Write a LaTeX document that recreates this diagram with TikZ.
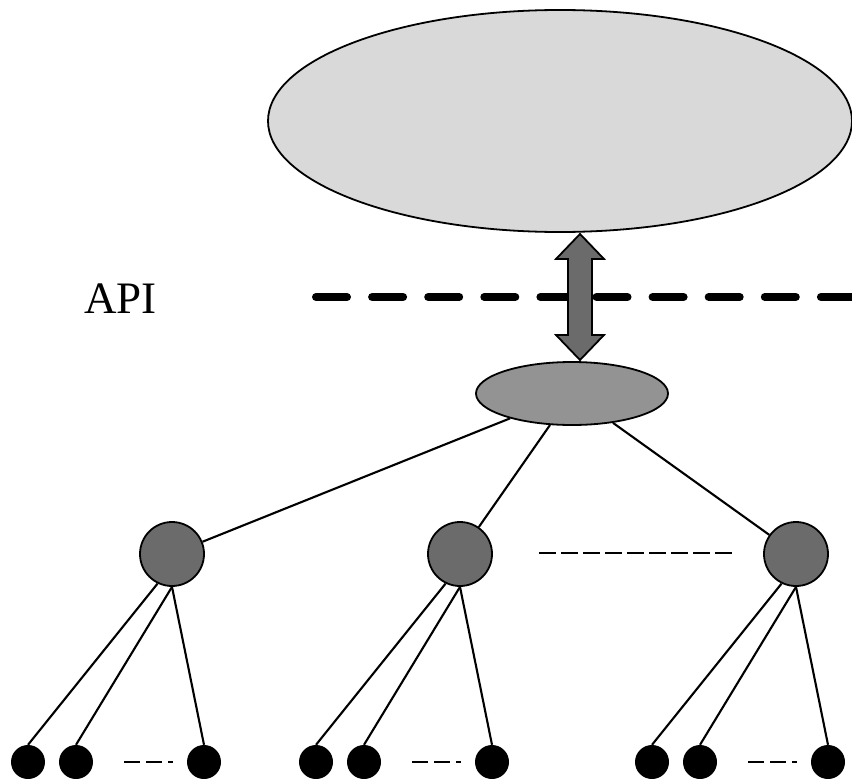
\documentclass[tikz,border=0pt]{standalone}
\usepackage{fontspec}
\setmainfont{Liberation Serif}
\usetikzlibrary{shapes.geometric,calc}
\definecolor{topfill}{HTML}{D9D9D9}
\definecolor{midfill}{HTML}{939393}
\definecolor{darkfill}{HTML}{6B6B6B}
\tikzset{
  outl/.style={draw=black, line width=1.8pt},
  bigell/.style={outl, ellipse, fill=topfill, inner sep=0pt, minimum width=584pt, minimum height=222pt},
  smallell/.style={outl, ellipse, fill=midfill, inner sep=0pt, minimum width=192pt, minimum height=63pt},
  hub/.style={outl, circle, fill=darkfill, inner sep=0pt, minimum size=64pt},
  leaf/.style={circle, fill=black, inner sep=0pt, minimum size=34pt},
  conn/.style={draw=black, line width=2.1pt},
  apiline/.style={draw=black, line width=8pt, line cap=round, dash pattern=on 31pt off 25.1pt},
  hubdash/.style={draw=black, line width=2.5pt, dash pattern=on 17pt off 5pt},
  leafdash/.style={draw=black, line width=2.7pt, dash pattern=on 16pt off 6pt},
  dblarrow/.style={outl, fill=darkfill, line join=miter}
}
\begin{document}
\begin{tikzpicture}[x=1pt,y=-1pt]
\useasboundingbox (0,0) rectangle (852,779);
\begin{scope}
\clip (0,0) rectangle (852,779);
\node[bigell] (top) at (560,121) {};
% API dashed line
\coordinate (dl) at (316,297);
\coordinate (dr) at (860,297);
\draw[apiline] (dl) -- (dr);
\node[anchor=base west, inner sep=0pt, font=\fontsize{45}{45}\selectfont] (api) at (84,313) {API};
% small ellipse
\node[smallell] (mid) at (572,393.5) {};
% double arrow
\coordinate (at) at (580,234);
\coordinate (ab) at (580,360);
\draw[dblarrow] (at) -- ++(24,25) -- ++(-12,0) -- ($(ab)+(12,-25)$) -- ++(12,0) -- (ab)
  -- ++(-24,-25) -- ++(12,0) -- ($(at)+(-12,25)$) -- ++(-12,0) -- cycle;
% hubs
\node[hub] (h1) at (172,554) {};
\node[hub] (h2) at (460,554) {};
\node[hub] (h3) at (796,554) {};
\draw[conn] (mid) -- (h1);
\draw[conn] (mid) -- (h2);
\draw[conn] (mid) -- (h3);
\coordinate (hdl) at (539,553);
\coordinate (hdr) at (733,553);
\draw[hubdash] (hdl) -- (hdr);
% leaves
\foreach \h/\cx in {1/172, 2/460, 3/796} {
  \node[leaf] (l\h a) at (\cx-144,762) {};
  \node[leaf] (l\h b) at (\cx-96,762) {};
  \node[leaf] (l\h c) at (\cx+32,762) {};
  \draw[conn] (h\h.244) -- (l\h a.north);
  \draw[conn] (h\h.south) -- (l\h b.north);
  \draw[conn] (h\h.south) -- (l\h c.north);
  \coordinate (ld\h l) at (\cx-48,762);
  \coordinate (ld\h r) at (\cx+1,762);
  \draw[leafdash] (ld\h l) -- (ld\h r);
}
\end{scope}
\end{tikzpicture}
\end{document}
